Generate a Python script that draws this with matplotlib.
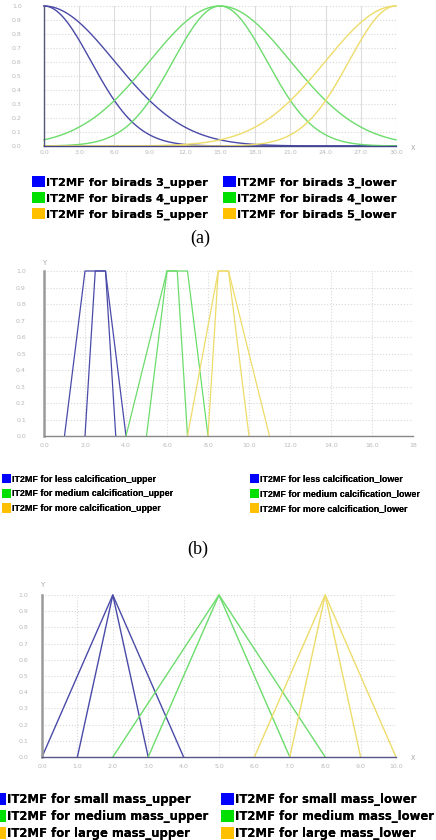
import numpy as np
import matplotlib
matplotlib.use("Agg")
import matplotlib.pyplot as plt
from matplotlib.patches import Patch

# (a) gaussian IT2MFs: centre, sigma of upper and lower MF
birads_names = ["birads 3", "birads 4", "birads 5"]
birads_centre = [0.0, 15.0, 30.0]
birads_sigma_upper = [6.0, 6.0, 6.0]
birads_sigma_lower = [4.0, 4.0, 4.0]
birads_ticks = [0, 3, 6, 9, 12, 15, 18, 21, 24, 27, 30]

# (b) trapezoid IT2MFs (a, b, c, d)
calc_names = ["less calcification", "medium calcification", "more calcification"]
calc_upper = [[1, 2, 3, 4], [4, 6, 7, 8], [7, 8.5, 9, 11]]
calc_lower = [[2, 2.5, 3, 3.5], [5, 6, 6.5, 7], [8, 8.5, 9, 10]]
calc_ticks = [0, 2, 4, 6, 8, 10, 12, 14, 16, 18]

# (c) triangle IT2MFs (a, b, c)
mass_names = ["small mass", "medium mass", "large mass"]
mass_upper = [[0, 2, 4], [2, 5, 8], [6, 8, 10]]
mass_lower = [[1, 2, 3], [3, 5, 7], [7, 8, 9]]
mass_ticks = list(range(0, 11))

line_cols = ["#4a4aa8", "#6cdc6c", "#eedc6a"]
swatch_cols = ["#0000ff", "#00e000", "#ffc000"]
yticks = np.round(np.arange(0, 1.01, 0.1), 1)

W, H = 436, 840
fig = plt.figure(figsize=(W / 100, H / 100), dpi=100)


def box(l, t, r, b):
    return [l / W, 1 - b / H, (r - l) / W, (b - t) / H]


def style(ax, xt, xlab, left_col, bottom_col, left_lw, ypad, xpad):
    ax.set_xlim(xt[0], xt[-1])
    ax.set_ylim(0, 1.0)
    ax.set_xticks(xt)
    ax.set_xticklabels(xlab)
    ax.set_yticks(yticks)
    ax.set_yticklabels([f"{v:.1f}" for v in yticks])
    ax.tick_params(length=0, labelsize=4.5, labelcolor="#b8b8b8")
    ax.tick_params(axis="y", pad=ypad)
    ax.tick_params(axis="x", pad=xpad)
    ax.grid(True, color="#d8d8d8", linestyle=":", linewidth=0.8)
    for s in ["top", "right"]:
        ax.spines[s].set_visible(False)
    ax.spines["left"].set_color(left_col)
    ax.spines["left"].set_linewidth(left_lw)
    ax.spines["bottom"].set_color(bottom_col)
    ax.spines["bottom"].set_linewidth(1.0)
    ax.set_axisbelow(True)


def legend(names, tag, x, y, fam, fs, sp, hl, hh):
    handles = [Patch(facecolor=c, edgecolor="none", label=f"IT2MF for {n}_{tag}")
               for n, c in zip(names, swatch_cols)]
    leg = fig.legend(handles=handles, ncol=1, loc="upper left", bbox_to_anchor=(x / W, 1 - y / H),
                     frameon=False, prop={"family": fam, "weight": "bold", "size": fs},
                     handlelength=hl, handleheight=hh, handletextpad=0.1,
                     labelspacing=sp, borderpad=0, borderaxespad=0)
    fig.add_artist(leg)


# ---- (a)
ax = fig.add_axes(box(44, 6, 396, 146))
xs = np.linspace(0, 30, 400)
for c, m, su, sl in zip(line_cols, birads_centre, birads_sigma_upper, birads_sigma_lower):
    ax.plot(xs, np.exp(-(xs - m) ** 2 / (2 * su ** 2)), color=c, lw=1.0, clip_on=False)
    ax.plot(xs, np.exp(-(xs - m) ** 2 / (2 * sl ** 2)), color=c, lw=1.0, clip_on=False)
style(ax, birads_ticks, [f"{t:.1f}" for t in birads_ticks], "#555577", "#444488", 1.0, 16, 3)
ax.grid(True, axis="x", color="#dddddd", linestyle="-", linewidth=0.8)
fig.text(413 / W, 1 - 147 / H, "x", fontsize=5.5, color="#b0b0b0", ha="center", va="center")
legend(birads_names, "upper", 32, 176, "DejaVu Sans", 8.2, 0.4, 1.12, 1.1)
legend(birads_names, "lower", 223, 176, "DejaVu Sans", 8.2, 0.4, 1.12, 1.1)
fig.text(200 / W, 1 - 238 / H, "(a)", fontsize=13, family="Liberation Serif", ha="center", va="center")

# ---- (b)
ax = fig.add_axes(box(44, 271, 413, 436))
for c, u, lo in zip(line_cols, calc_upper, calc_lower):
    ax.plot(u, [0, 1, 1, 0], color=c, lw=0.9, clip_on=False)
    ax.plot(lo, [0, 1, 1, 0], color=c, lw=0.9, clip_on=False)
style(ax, calc_ticks, [f"{t:.1f}" if t < 18 else "18" for t in calc_ticks],
      "#9a9a9a", "#888888", 1.8, 13, 5)
fig.text(44 / W, 1 - 263 / H, "Y", fontsize=5, color="#a8a8a8", ha="center", va="center")
legend(calc_names, "upper", 2, 474, "Liberation Sans", 6.4, 0.58, 1.02, 1.2)
legend(calc_names, "lower", 250, 474, "Liberation Sans", 6.4, 0.58, 1.02, 1.2)
fig.text(198 / W, 1 - 549 / H, "(b)", fontsize=13, family="Liberation Serif", ha="center", va="center")

# ---- (c)
ax = fig.add_axes(box(42, 595, 396, 757))
for c, u, lo in zip(line_cols, mass_upper, mass_lower):
    ax.plot(u, [0, 1, 0], color=c, lw=1.0, clip_on=False)
    ax.plot(lo, [0, 1, 0], color=c, lw=1.0, clip_on=False)
style(ax, mass_ticks, [f"{t:.1f}" for t in mass_ticks], "#9a9a9a", "#555588", 1.8, 10, 5)
fig.text(42 / W, 1 - 585 / H, "Y", fontsize=5, color="#a8a8a8", ha="center", va="center")
fig.text(413 / W, 1 - 757 / H, "x", fontsize=5.5, color="#b0b0b0", ha="center", va="center")
legend(mass_names, "upper", -7, 793, "DejaVu Sans", 8.4, 0.33, 1.12, 1.2)
legend(mass_names, "lower", 221, 793, "DejaVu Sans", 8.4, 0.33, 1.12, 1.2)

fig.savefig("out.png", dpi=100, facecolor="white")
